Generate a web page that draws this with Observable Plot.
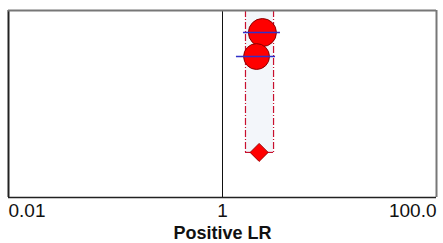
<!DOCTYPE html>
<html>
<head>
<meta charset="utf-8">
<script src="https://cdn.jsdelivr.net/npm/d3@7"></script>
<script src="https://cdn.jsdelivr.net/npm/@observablehq/plot@0.6"></script>
<style>
  html, body { margin: 0; padding: 0; background: #fff; }
  #chart svg { display: block; font-family: "Liberation Sans", Arial, sans-serif; }
</style>
</head>
<body>
<div id="chart"></div>
<script>
// Study-level positive likelihood ratios
const studyLR = [2.36, 2.08];
const studyLower = [1.57, 1.35];
const studyUpper = [3.48, 3.13];
const studyWeight = [54, 46];
// Pooled estimate
const pooledLR = 2.2;
const pooledLower = 1.64;
const pooledUpper = 3.0;
// Axis
const tickValues = [0.01, 1, 100];
const tickLabels = ["0.01", "1", "100.0"];
const axisTitle = "Positive LR";

const studies = studyLR.map((v, i) => ({
  row: i + 1, lr: v, lo: studyLower[i], hi: studyUpper[i], w: studyWeight[i]
}));
const pooledRow = studies.length + 4;
const pooled = [{row: pooledRow, lr: pooledLR, lo: pooledLower, hi: pooledUpper}];
const yTop = 0.08, yBottom = 7.88;
const ticks = tickValues.map((v, i) => ({v, label: tickLabels[i], i}));
const anchors = ["start", "middle", "end"];

const chart = Plot.plot({
  width: 443,
  height: 243,
  marginLeft: 8,
  marginRight: 7,
  marginTop: 10,
  marginBottom: 46,
  style: {background: "#fff", fontFamily: "'Liberation Sans', Arial, sans-serif"},
  x: {type: "log", domain: [0.01, 100], axis: null},
  y: {domain: [yTop, yBottom], reverse: true, axis: null},
  r: {type: "sqrt", domain: [0, d3.max(studyWeight)], range: [0, 14]},
  marks: [
    // pooled CI band
    Plot.rect(pooled, {x1: "lo", x2: "hi", y1: yTop, y2: "row", fill: "#f3f6fa"}),
    // line of no effect
    Plot.ruleX([1], {y1: yTop, y2: yBottom, stroke: "#111", strokeWidth: 1}),
    // pooled CI dash-dot lines
    Plot.ruleX(pooled, {x: "lo", y1: yTop, y2: "row", stroke: "#c8102e", strokeWidth: 1.2, strokeDasharray: "7,2,1,2"}),
    Plot.ruleX(pooled, {x: "hi", y1: yTop, y2: "row", stroke: "#c8102e", strokeWidth: 1.2, strokeDasharray: "7,2,1,2"}),
    Plot.ruleY(pooled, {y: "row", x1: "lo", x2: "hi", stroke: "#c8102e", strokeWidth: 1.2}),
    // pooled diamond
    Plot.dot(pooled, {x: "lr", y: "row", symbol: "diamond2", r: 8.1, fill: "#ff0000", stroke: "#a00000", strokeWidth: 1}),
    // study circles
    Plot.dot(studies, {x: "lr", y: "row", r: "w", fill: "#ff0000", stroke: "#8a0000", strokeWidth: 1}),
    // study CIs
    Plot.ruleY(studies, {y: "row", x1: "lo", x2: "hi", stroke: "#3030c8", strokeWidth: 1.5}),
    // frame
    Plot.ruleX([0.01], {y1: yTop, y2: yBottom, stroke: "#222", strokeWidth: 2}),
    Plot.ruleX([100], {y1: yTop, y2: yBottom, stroke: "#777", strokeWidth: 2}),
    Plot.ruleY([yTop], {x1: 0.01, x2: 100, stroke: "#777", strokeWidth: 2}),
    Plot.ruleY([yBottom], {x1: 0.01, x2: 100, stroke: "#222", strokeWidth: 1.5}),
    // tick labels
    ...anchors.map((a, k) => Plot.text(ticks.filter(d => d.i === k), {
      x: "v", text: "label", frameAnchor: "bottom", dy: 13, textAnchor: a,
      lineAnchor: "middle", fontSize: 19, fill: "#111"
    })),
    // axis title
    Plot.text([axisTitle], {
      x: 1, text: d => d, frameAnchor: "bottom", dy: 36, textAnchor: "middle",
      lineAnchor: "middle", fontSize: 18, fontWeight: "bold", fill: "#111"
    })
  ]
});
document.getElementById("chart").append(chart);
</script>
</body>
</html>
